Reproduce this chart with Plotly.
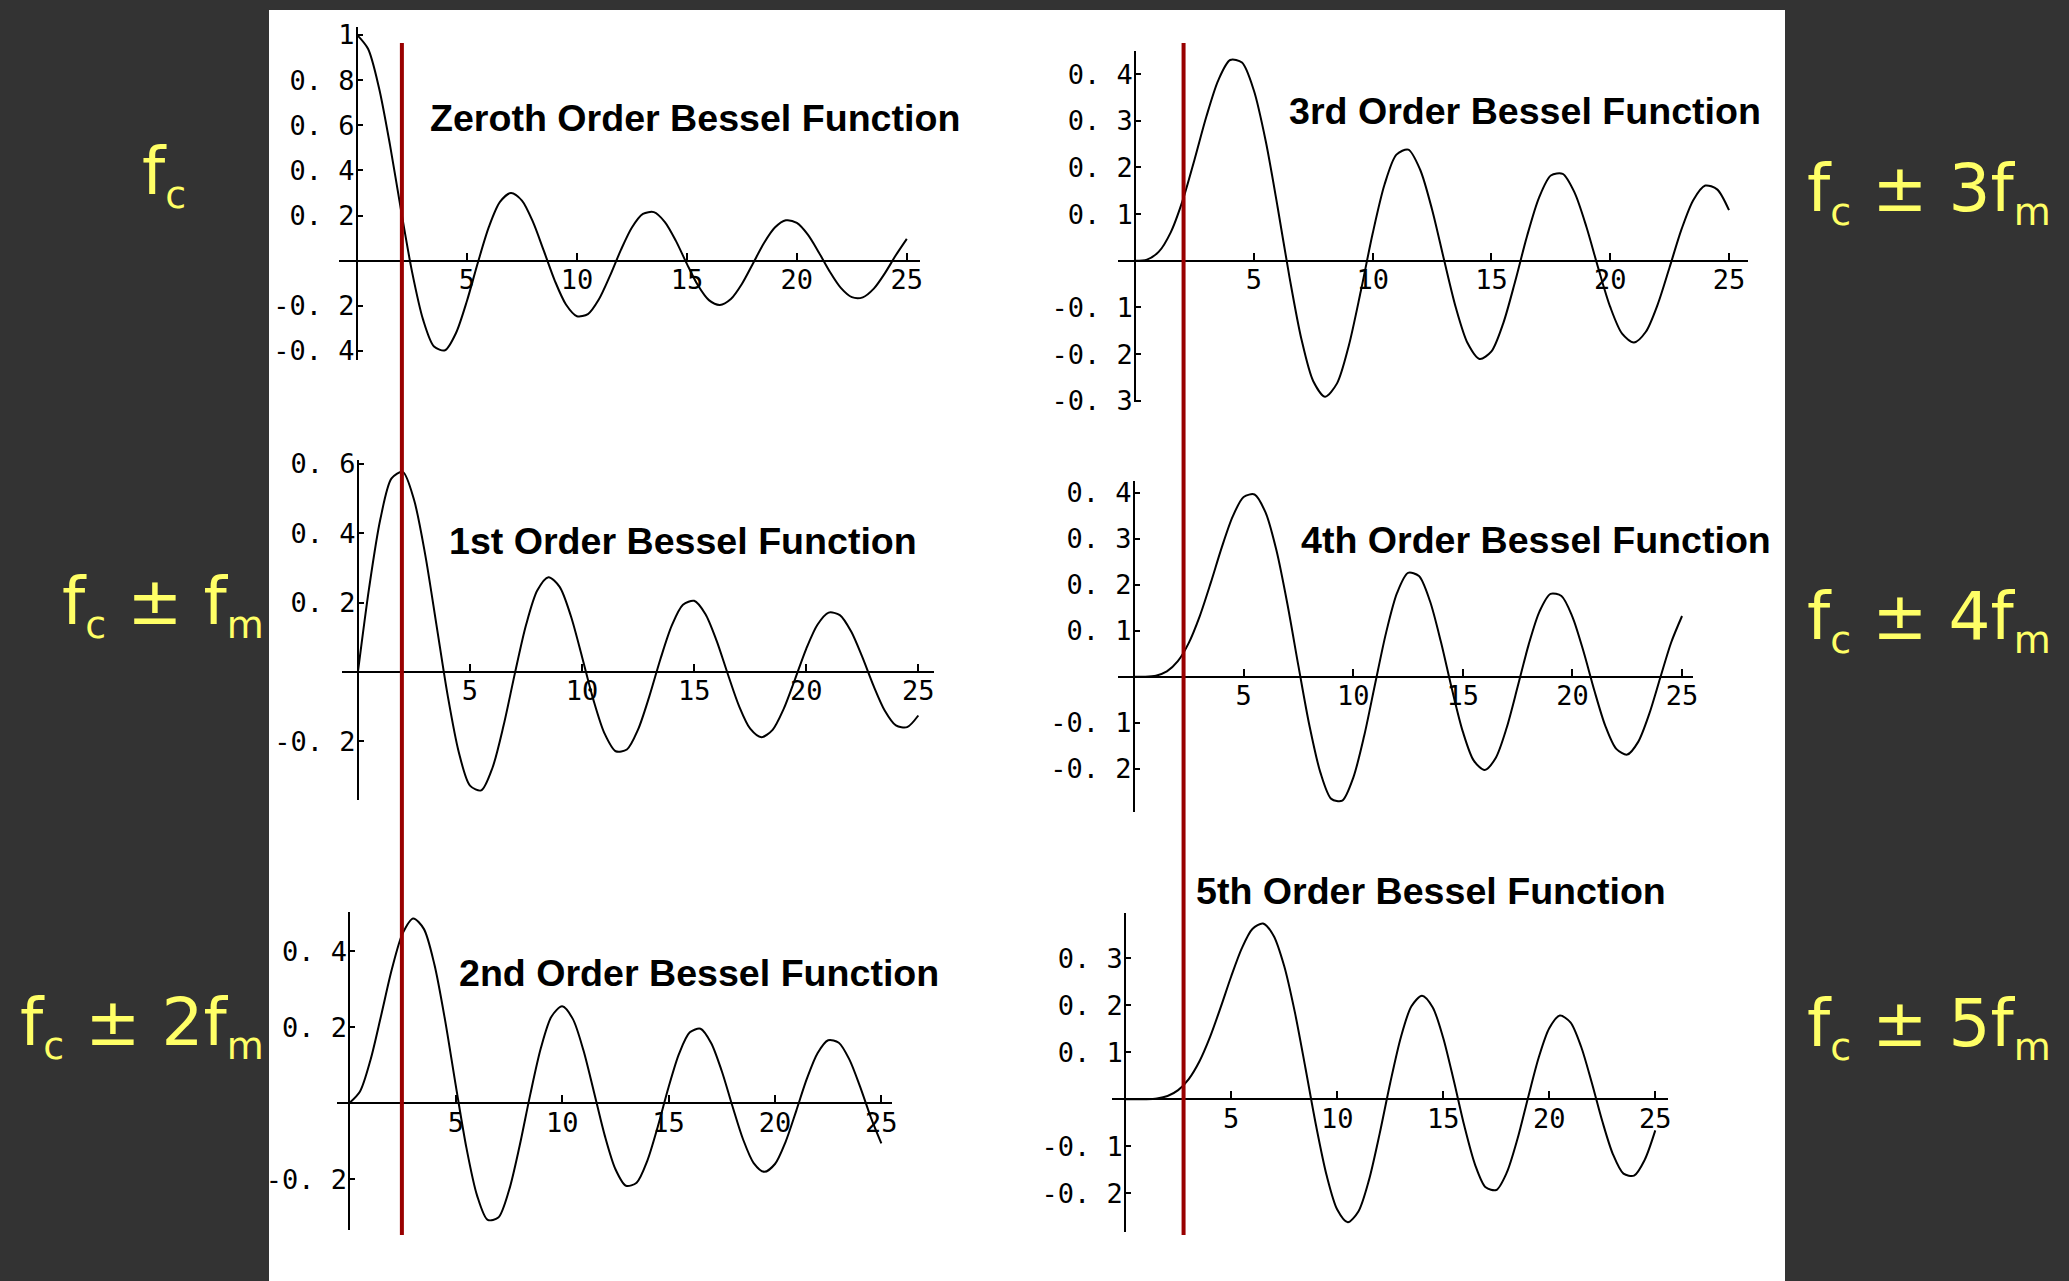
import plotly.graph_objects as go

W, H = 2069, 1281

# ---- data: Bessel functions of the first kind J0..J5, sampled every 0.5 on [0, 25] ----
bessel_x = [k / 2 for k in range(51)]

j0 = [1.0, 0.9385, 0.7652, 0.5118, 0.2239, -0.0484, -0.2601, -0.3801, -0.3971, -0.3205,
      -0.1776, -0.0068, 0.1506, 0.2601, 0.3001, 0.2663, 0.1717, 0.0420, -0.0903, -0.1940,
      -0.2459, -0.2367, -0.1712, -0.0677, 0.0477, 0.1469, 0.2069, 0.2150, 0.1711, 0.0876,
      -0.0142, -0.1092, -0.1749, -0.1964, -0.1699, -0.1032, -0.0134, 0.0771, 0.1466, 0.1788,
      0.1670, 0.1151, 0.0366, -0.0490, -0.1207, -0.1616, -0.1624, -0.1239, -0.0562, 0.0237,
      0.0963]
j1 = [0.0, 0.2423, 0.4401, 0.5579, 0.5767, 0.4971, 0.3391, 0.1374, -0.0660, -0.2311,
      -0.3276, -0.3414, -0.2767, -0.1538, -0.0047, 0.1352, 0.2346, 0.2731, 0.2453, 0.1613,
      0.0435, -0.0789, -0.1768, -0.2284, -0.2234, -0.1655, -0.0703, 0.0381, 0.1334, 0.1935,
      0.2051, 0.1672, 0.0904, -0.0058, -0.0977, -0.1635, -0.1880, -0.1667, -0.1057, -0.0209,
      0.0668, 0.1362, 0.1711, 0.1639, 0.1172, 0.0433, -0.0395, -0.1109, -0.1540, -0.1590,
      -0.1254]
j2 = [0.0, 0.0306, 0.1149, 0.2321, 0.3528, 0.4461, 0.4861, 0.4586, 0.3641, 0.2178,
      0.0466, -0.1173, -0.2429, -0.3074, -0.3014, -0.2302, -0.1130, 0.0223, 0.1448, 0.2280,
      0.2546, 0.2217, 0.1390, 0.0280, -0.0849, -0.1734, -0.2177, -0.2094, -0.1520, -0.0609,
      0.0416, 0.1308, 0.1862, 0.1957, 0.1584, 0.0845, -0.0075, -0.0951, -0.1577, -0.1809,
      -0.1603, -0.1018, -0.0203, 0.0642, 0.1313, 0.1654, 0.1590, 0.1145, 0.0434, -0.0367,
      -0.1063]
j3 = [0.0, 0.0026, 0.0196, 0.0610, 0.1289, 0.2167, 0.3091, 0.3867, 0.4302, 0.4247,
      0.3648, 0.2561, 0.1148, -0.0354, -0.1676, -0.2580, -0.2911, -0.2626, -0.1809, -0.0653,
      0.0584, 0.1634, 0.2274, 0.2381, 0.1951, 0.1100, 0.0033, -0.1001, -0.1768, -0.2103,
      -0.1940, -0.1334, -0.0438, 0.0532, 0.1350, 0.1828, 0.1863, 0.1461, 0.0725, -0.0162,
      -0.0989, -0.1561, -0.1750, -0.1520, -0.0933, -0.0139, 0.0672, 0.1304, 0.1612, 0.1530,
      0.1084]
j4 = [0.0, 0.0002, 0.0025, 0.0117, 0.0340, 0.0738, 0.1320, 0.2043, 0.2811, 0.3485,
      0.3912, 0.3967, 0.3576, 0.2747, 0.1578, 0.0238, -0.1054, -0.2077, -0.2655, -0.2692,
      -0.2196, -0.1283, -0.0150, 0.0962, 0.1825, 0.2262, 0.2192, 0.1649, 0.0762, -0.0261,
      -0.1192, -0.1824, -0.2026, -0.1764, -0.1108, -0.0218, 0.0696, 0.1425, 0.1806, 0.1759,
      0.1306, 0.0561, -0.0297, -0.1066, -0.1567, -0.1691, -0.1415, -0.0812, -0.0031, 0.0742,
      0.1323]
j5 = [0.0, 0.0000, 0.0002, 0.0018, 0.0070, 0.0195, 0.0430, 0.0803, 0.1321, 0.1949,
      0.2611, 0.3209, 0.3621, 0.3735, 0.3479, 0.2834, 0.1858, 0.0671, -0.0550, -0.1614,
      -0.2341, -0.2612, -0.2383, -0.1712, -0.0734, 0.0348, 0.1316, 0.1978, 0.2203, 0.1959,
      0.1304, 0.0393, -0.0575, -0.1387, -0.1871, -0.1928, -0.1554, -0.0845, 0.0035, 0.0884,
      0.1511, 0.1780, 0.1637, 0.1123, 0.0363, -0.0462, -0.1164, -0.1580, -0.1622, -0.1288,
      -0.0661]

x_tick_vals = [5, 10, 15, 20, 25]
x_tick_text = ["5", "10", "15", "20", "25"]

y_ticks_j0 = [-0.4, -0.2, 0.2, 0.4, 0.6, 0.8, 1.0]
y_ticks_j1 = [-0.2, 0.2, 0.4, 0.6]
y_ticks_j2 = [-0.2, 0.2, 0.4]
y_ticks_j3 = [-0.3, -0.2, -0.1, 0.1, 0.2, 0.3, 0.4]
y_ticks_j4 = [-0.2, -0.1, 0.1, 0.2, 0.3, 0.4]
y_ticks_j5 = [-0.2, -0.1, 0.1, 0.2, 0.3]

titles = ["Zeroth Order Bessel Function", "1st Order Bessel Function",
          "2nd Order Bessel Function", "3rd Order Bessel Function",
          "4th Order Bessel Function", "5th Order Bessel Function"]

# modulation index marked by the red vertical line
beta_marker = 2.04

# ---- styling ----
BG = "#333333"
YELLOW = "#ffff66"
RED = "#990000"
TICK_FONT = dict(family="DejaVu Sans Mono", size=27, color="black")
TITLE_FONT = dict(family="Liberation Sans", size=37.6, color="black", weight="bold")
LABEL_FONT = dict(family="DejaVu Sans", size=66, color=YELLOW)


def tick_label(v):
    return ("%g" % v).replace(".", ". ")


def sub(s):
    return '<sub><span style="font-size:38px">%s</span></sub>' % s


def sideband(k):
    base = "f" + sub("c")
    if k == 0:
        return base
    mult = "" if k == 1 else str(k)
    return base + " \u00b1 " + mult + "f" + sub("m")


# panel geometry: pixel box (left, top, right, bottom), x range, y range, title anchor (px)
panels = [
    dict(y=j0, ticks=y_ticks_j0, box=(339, 27, 920, 360), xr=(-0.82, 25.6), yr=(-0.44, 1.035),
         title_at=(428, 118)),
    dict(y=j1, ticks=y_ticks_j1, box=(342, 460, 934, 800), xr=(-0.71, 25.7), yr=(-0.369, 0.611),
         title_at=(447, 541)),
    dict(y=j2, ticks=y_ticks_j2, box=(337, 912, 892, 1230), xr=(-0.58, 25.5), yr=(-0.334, 0.503),
         title_at=(457, 973)),
    dict(y=j3, ticks=y_ticks_j3, box=(1118, 51, 1748, 402), xr=(-0.72, 25.8), yr=(-0.3025, 0.4495),
         title_at=(1287, 111)),
    dict(y=j4, ticks=y_ticks_j4, box=(1118, 481, 1693, 812), xr=(-0.73, 25.5), yr=(-0.294, 0.426),
         title_at=(1299, 540)),
    dict(y=j5, ticks=y_ticks_j5, box=(1112, 913, 1668, 1232), xr=(-0.62, 25.6), yr=(-0.282, 0.396),
         title_at=(1194, 891)),
]

fig = go.Figure()
layout = dict(
    width=W, height=H, autosize=False,
    margin=dict(l=0, r=0, t=0, b=0, pad=0, autoexpand=False),
    paper_bgcolor=BG, plot_bgcolor="white",
    showlegend=False,
    shapes=[], annotations=[],
)

# white slide panel behind the plots
layout["shapes"].append(dict(type="rect", xref="paper", yref="paper",
                             x0=269 / W, x1=1785 / W, y0=0, y1=1 - 10 / H,
                             fillcolor="white", line=dict(width=0), layer="below"))

for i, p in enumerate(panels):
    n = "" if i == 0 else str(i + 1)
    l, t, r, b = p["box"]
    x0, x1 = p["xr"]
    y0, y1 = p["yr"]
    dom_x = [l / W, r / W]
    dom_y = [1 - b / H, 1 - t / H]
    # axes cross at the origin
    xpos = dom_y[0] + (0 - y0) / (y1 - y0) * (dom_y[1] - dom_y[0])
    ypos = dom_x[0] + (0 - x0) / (x1 - x0) * (dom_x[1] - dom_x[0])

    fig.add_trace(go.Scatter(
        x=bessel_x, y=p["y"], mode="lines",
        line=dict(color="black", width=2, shape="spline", smoothing=0.8),
        xaxis="x" + n, yaxis="y" + n, hoverinfo="skip", cliponaxis=False,
    ))

    common = dict(showline=True, linecolor="black", linewidth=2, showgrid=False,
                  zeroline=False, ticks="inside", tickcolor="black", tickwidth=2,
                  tickfont=TICK_FONT, fixedrange=True, automargin=False)
    layout["xaxis" + n] = dict(domain=dom_x, range=[x0, x1], anchor="free", position=xpos,
                               tickvals=x_tick_vals, ticktext=x_tick_text, ticklen=7,
                               ticklabelstandoff=-5, **common)
    layout["yaxis" + n] = dict(domain=dom_y, range=[y0, y1], anchor="free", position=ypos,
                               tickvals=p["ticks"], ticktext=[tick_label(v) for v in p["ticks"]],
                               ticklen=5, side="left", ticklabelstandoff=-4, **common)

    tx, ty = p["title_at"]
    layout["annotations"].append(dict(
        text=titles[i], xref="paper", yref="paper", x=tx / W, y=1 - ty / H,
        xanchor="left", yanchor="middle", showarrow=False, font=TITLE_FONT))

# red marker line across each column of plots
for xref in ("x", "x4"):
    layout["shapes"].append(dict(type="line", xref=xref, yref="paper",
                                 x0=beta_marker, x1=beta_marker,
                                 y0=1 - 1235 / H, y1=1 - 43 / H,
                                 line=dict(color=RED, width=4), layer="above"))

# spectral component labels
label_pos = [
    (0, 140, 175, "left"),
    (1, 266, 605, "right"),
    (2, 266, 1026, "right"),
    (3, 1805, 192, "left"),
    (4, 1805, 620, "left"),
    (5, 1805, 1027, "left"),
]
for k, px, py, anchor in label_pos:
    layout["annotations"].append(dict(
        text=sideband(k), xref="paper", yref="paper", x=px / W, y=1 - py / H,
        xanchor=anchor, yanchor="middle", showarrow=False, font=LABEL_FONT))

fig.update_layout(**layout)
fig.write_html("out.html")
